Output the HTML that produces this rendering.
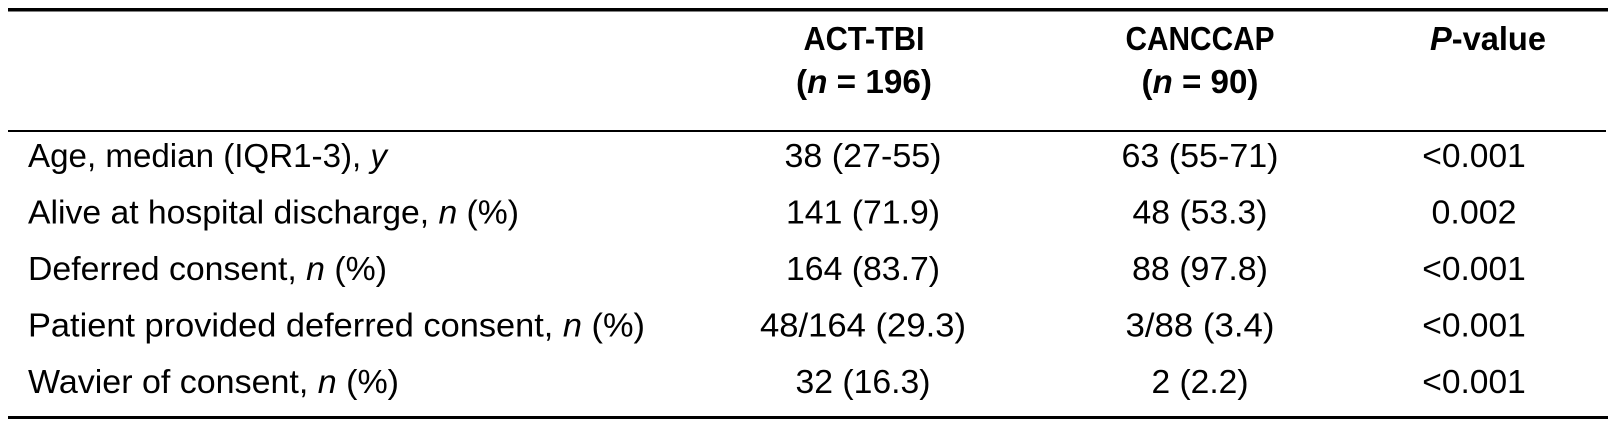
<!DOCTYPE html>
<html>
<head>
<meta charset="utf-8">
<style>
  html, body { margin: 0; padding: 0; background: #ffffff; }
  body { width: 1616px; height: 428px; overflow: hidden; }
  svg { display: block; }
  text { font-family: "Liberation Sans", Arial, sans-serif; font-size: 33.5px; fill: #000; }
  .b { font-weight: bold; }
  .i { font-style: italic; }
</style>
</head>
<body>
<svg width="1616" height="428" viewBox="0 0 1616 428" xmlns="http://www.w3.org/2000/svg">
  <rect x="0" y="0" width="1616" height="428" fill="#ffffff"/>
  <!-- rules -->
  <rect x="8" y="8" width="1600" height="3.5" fill="#000"/>
  <rect x="8" y="130" width="1598" height="2" fill="#000"/>
  <rect x="8" y="416" width="1600" height="3" fill="#000"/>

  <!-- header -->
  <text class="b" x="864" y="50" text-anchor="middle" textLength="121" lengthAdjust="spacingAndGlyphs">ACT-TBI</text>
  <text class="b" x="864" y="93" text-anchor="middle" textLength="136" lengthAdjust="spacingAndGlyphs">(<tspan class="i">n</tspan> = 196)</text>
  <text class="b" x="1200" y="50" text-anchor="middle" textLength="149" lengthAdjust="spacingAndGlyphs">CANCCAP</text>
  <text class="b" x="1200" y="93" text-anchor="middle" textLength="117" lengthAdjust="spacingAndGlyphs">(<tspan class="i">n</tspan> = 90)</text>
  <text class="b" x="1488" y="50" text-anchor="middle" textLength="116" lengthAdjust="spacingAndGlyphs"><tspan class="i">P</tspan>-value</text>

  <!-- row labels -->
  <text x="28" y="167" textLength="359" lengthAdjust="spacingAndGlyphs">Age, median (IQR1-3), <tspan class="i">y</tspan></text>
  <text x="28" y="223.5" textLength="491" lengthAdjust="spacingAndGlyphs">Alive at hospital discharge, <tspan class="i">n</tspan> (%)</text>
  <text x="28" y="280" textLength="359" lengthAdjust="spacingAndGlyphs">Deferred consent, <tspan class="i">n</tspan> (%)</text>
  <text x="28" y="336.5" textLength="617" lengthAdjust="spacingAndGlyphs">Patient provided deferred consent, <tspan class="i">n</tspan> (%)</text>
  <text x="28" y="393" textLength="371" lengthAdjust="spacingAndGlyphs">Wavier of consent, <tspan class="i">n</tspan> (%)</text>

  <!-- ACT-TBI column -->
  <text x="863" y="167" text-anchor="middle" textLength="157" lengthAdjust="spacingAndGlyphs">38 (27-55)</text>
  <text x="863" y="223.5" text-anchor="middle" textLength="154" lengthAdjust="spacingAndGlyphs">141 (71.9)</text>
  <text x="863" y="280" text-anchor="middle" textLength="154" lengthAdjust="spacingAndGlyphs">164 (83.7)</text>
  <text x="863" y="336.5" text-anchor="middle" textLength="206" lengthAdjust="spacingAndGlyphs">48/164 (29.3)</text>
  <text x="863" y="393" text-anchor="middle" textLength="135" lengthAdjust="spacingAndGlyphs">32 (16.3)</text>

  <!-- CANCCAP column -->
  <text x="1200" y="167" text-anchor="middle" textLength="157" lengthAdjust="spacingAndGlyphs">63 (55-71)</text>
  <text x="1200" y="223.5" text-anchor="middle" textLength="135" lengthAdjust="spacingAndGlyphs">48 (53.3)</text>
  <text x="1200" y="280" text-anchor="middle" textLength="136" lengthAdjust="spacingAndGlyphs">88 (97.8)</text>
  <text x="1200" y="336.5" text-anchor="middle" textLength="149" lengthAdjust="spacingAndGlyphs">3/88 (3.4)</text>
  <text x="1200" y="393" text-anchor="middle" textLength="97" lengthAdjust="spacingAndGlyphs">2 (2.2)</text>

  <!-- P-value column -->
  <text x="1474" y="167" text-anchor="middle" textLength="103.5" lengthAdjust="spacingAndGlyphs">&lt;0.001</text>
  <text x="1474" y="223.5" text-anchor="middle" textLength="85" lengthAdjust="spacingAndGlyphs">0.002</text>
  <text x="1474" y="280" text-anchor="middle" textLength="103.5" lengthAdjust="spacingAndGlyphs">&lt;0.001</text>
  <text x="1474" y="336.5" text-anchor="middle" textLength="103.5" lengthAdjust="spacingAndGlyphs">&lt;0.001</text>
  <text x="1474" y="393" text-anchor="middle" textLength="103.5" lengthAdjust="spacingAndGlyphs">&lt;0.001</text>
</svg>
</body>
</html>
